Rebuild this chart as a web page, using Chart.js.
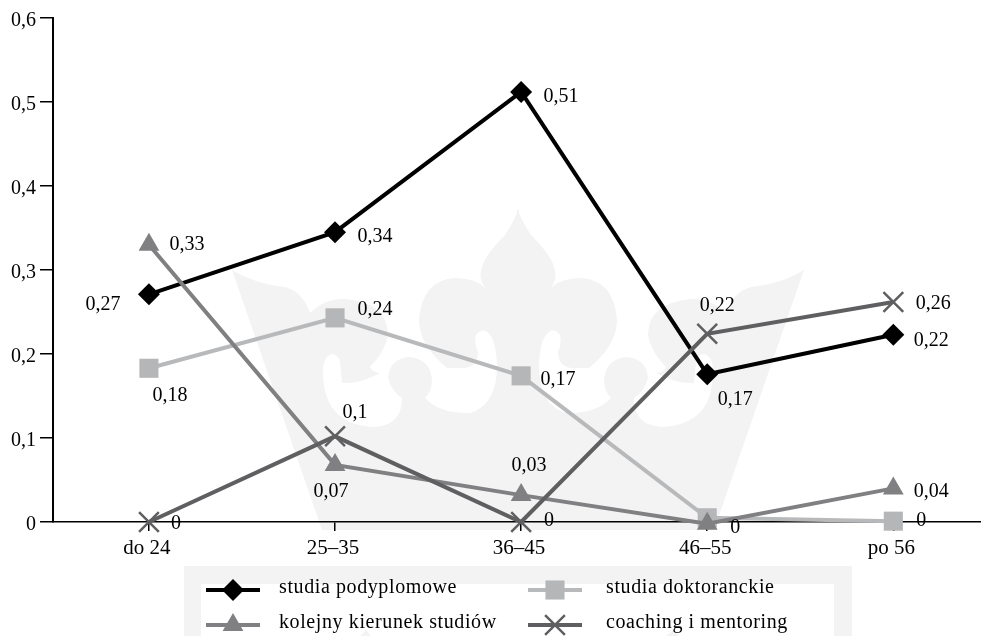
<!DOCTYPE html>
<html lang="pl">
<head>
<meta charset="utf-8">
<title>Wykres</title>
<script src="https://cdn.jsdelivr.net/npm/chart.js@4"></script>
<style>
  html, body { margin: 0; padding: 0; background: #fff; overflow: hidden; }
  #wrap { position: relative; width: 981px; height: 636px; overflow: hidden; }
  #bg, #chart { position: absolute; left: 0; top: 0; }
</style>
</head>
<body>
<div id="wrap">
  <!-- watermark behind the plot -->
  <svg id="bg" width="981" height="636" viewBox="0 0 981 636">
    <defs>
      <path id="half" d="M322 530 L232 270 Q255 284 285 287 Q303 292 310 313 Q325 298 345 299 Q388 303 388 335
        Q385 352 370 367 Q372 372 380 373 Q360 384 342 383 Q341 372 340 362 Q338 354 332 354 Q323 356 323 372
        Q323 425 375 427 Q402 425 402 398 Q392 392 388 378 Q390 358 410 357 Q432 360 432 382 Q431 392 425 398
        Q440 414 470 413 Q497 405 497 365 Q496 342 490 335 Q483 326 476 335 Q474 345 478 352 Q478 366 465 368
        L447 368 Q419 345 419 320 Q422 280 455 278 Q475 278 485 288 Q478 278 482 267 Q485 255 505 235 Q515 220 518 210
        L519 210 L519 530 Z"/>
    </defs>
    <g fill="#f3f3f3">
      <use href="#half"/>
      <use href="#half" transform="translate(1036,0) scale(-1,1)"/>
      <path fill-rule="evenodd" d="M184 566 H852 V636 H834 V584 H201 V636 H184 Z"/>
      <path d="M360 636 L366 630 L371 636 Z M666 636 L674 630 L679 636 Z"/>
    </g>
  </svg>
  <!-- wider than the window so the x axis reaches the edge -->
  <canvas id="chart" width="997" height="636"></canvas>
</div>

<script>
/* ── Data ───────────────────────────────────────────────────── */

const categories = ["do 24", "25–35", "36–45", "46–55", "po 56"];
const yTickLabels = ["0", "0,1", "0,2", "0,3", "0,4", "0,5", "0,6"];

const seriesNames = ["studia podyplomowe", "kolejny kierunek studiów", "studia doktoranckie", "coaching i mentoring"];

const podyplomowe = [0.271, 0.345, 0.512, 0.176, 0.223];
const kierunek    = [0.33, 0.068, 0.032, -0.002, 0.04];
const doktoranckie = [0.183, 0.243, 0.174, 0.005, 0.001];
const coaching    = [0, 0.102, 0, 0.224, 0.262];

const podyplomoweLabels  = ["0,27", "0,34", "0,51", "0,17", "0,22"];
const kierunekLabels     = ["0,33", "0,07", "0,03", "0", "0,04"];
const doktoranckieLabels = ["0,18", "0,24", "0,17", "", "0"];
const coachingLabels     = ["0", "0,1", "0", "0,22", "0,26"];

// where each value label sits relative to its point, in px
const podyplomoweOffsets  = [[-46, 10], [40, 5], [40, 5], [28, 26], [38, 6]];
const kierunekOffsets     = [[38, 0], [-4, 27], [8, -29], [28, 4], [38, 3]];
const doktoranckieOffsets = [[21, 27], [40, -8], [37, 4], [0, 0], [28, 0]];
const coachingOffsets     = [[27, 2], [20, -24], [28, -1], [10, -28], [40, 2]];

/* ── Styling ────────────────────────────────────────────────── */

const FONT = '"Liberation Serif", "Times New Roman", serif';

function makeSeries(name, values, color, pointColor, style, radius, order, labels, offsets) {
  return {
    label: name,
    data: values.map((v, i) => ({ x: i, y: v })),
    borderColor: color,
    borderWidth: 4,
    tension: 0,
    clip: false,
    order: order,
    pointStyle: style,
    pointRadius: radius,
    pointHoverRadius: radius,
    pointBackgroundColor: pointColor,
    pointBorderColor: pointColor,
    pointBorderWidth: style === "crossRot" ? 2.5 : 0,
    valueLabels: labels,
    valueOffsets: offsets,
  };
}

/* ── Plugins ────────────────────────────────────────────────── */

const valueLabelPlugin = {
  id: "valueLabels",
  afterDatasetsDraw(chart) {
    const ctx = chart.ctx;
    ctx.save();
    ctx.font = "20px " + FONT;
    ctx.fillStyle = "#000";
    ctx.textAlign = "center";
    ctx.textBaseline = "middle";
    chart.data.datasets.forEach((ds, d) => {
      chart.getDatasetMeta(d).data.forEach((pt, i) => {
        if (!ds.valueLabels[i]) return;
        const off = ds.valueOffsets[i];
        ctx.fillText(ds.valueLabels[i], pt.x + off[0], pt.y + off[1]);
      });
    });
    ctx.restore();
  },
};

// two column legend under the plot
const legendPlugin = {
  id: "twoColLegend",
  afterDraw(chart) {
    const ctx = chart.ctx;
    const slots = [[206, 590, 279], [206, 625, 279], [528, 590, 606], [528, 625, 606]];
    chart.data.datasets.forEach((ds, d) => {
      const x = slots[d][0], y = slots[d][1];
      ctx.save();
      ctx.strokeStyle = ds.borderColor;
      ctx.lineWidth = 4;
      ctx.beginPath();
      ctx.moveTo(x, y);
      ctx.lineTo(x + 54, y);
      ctx.stroke();
      ctx.fillStyle = ds.pointBackgroundColor;
      ctx.strokeStyle = ds.pointBorderColor;
      ctx.lineWidth = ds.pointBorderWidth;
      Chart.helpers.drawPoint(ctx, { pointStyle: ds.pointStyle, radius: ds.pointRadius, borderWidth: ds.pointBorderWidth }, x + 27, y);
      ctx.font = "20px " + FONT;
      ctx.letterSpacing = "0.6px";
      ctx.fillStyle = "#000";
      ctx.textAlign = "left";
      ctx.textBaseline = "middle";
      ctx.fillText(ds.label, slots[d][2], y - 2);
      ctx.restore();
    });
  },
};

/* ── Chart ──────────────────────────────────────────────────── */

new Chart(document.getElementById("chart"), {
  type: "line",
  data: {
    datasets: [
      makeSeries(seriesNames[0], podyplomowe, "#000000", "#000000", "rectRot", 11, 4, podyplomoweLabels, podyplomoweOffsets),
      makeSeries(seriesNames[1], kierunek, "#808083", "#808083", "triangle", 12, 2, kierunekLabels, kierunekOffsets),
      makeSeries(seriesNames[2], doktoranckie, "#b8b9bb", "#b5b6b8", "rect", 13.5, 3, doktoranckieLabels, doktoranckieOffsets),
      makeSeries(seriesNames[3], coaching, "#5f5f61", "#5f5f61", "crossRot", 14, 1, coachingLabels, coachingOffsets),
    ],
  },
  options: {
    responsive: false,
    animation: false,
    events: [],
    layout: { padding: { top: 18, left: 0, right: 0, bottom: 0 } },
    plugins: { legend: { display: false }, tooltip: { enabled: false } },
    scales: {
      x: {
        type: "linear",
        min: -0.5155,
        max: 4.4685,
        afterBuildTicks(scale) { scale.ticks = categories.map((c, i) => ({ value: i })); },
        afterFit(scale) { scale.height = 114; },
        border: { color: "#000", width: 1.5 },
        grid: { drawOnChartArea: false, color: "#000", lineWidth: 1.5, tickLength: 9 },
        ticks: {
          autoSkip: false,
          maxRotation: 0,
          padding: 5,
          labelOffset: -2,
          color: "#000",
          font: { family: FONT, size: 21 },
          callback: v => categories[v],
        },
      },
      y: {
        min: 0,
        max: 0.6,
        afterFit(scale) { scale.width = 53; },
        border: { color: "#000", width: 2 },
        grid: { drawOnChartArea: false, color: "#000", lineWidth: 1.5, tickLength: 13 },
        ticks: {
          stepSize: 0.1,
          padding: 4,
          labelOffset: 3,
          color: "#000",
          font: { family: FONT, size: 20 },
          callback: (v, i) => yTickLabels[i],
        },
      },
    },
  },
  plugins: [valueLabelPlugin, legendPlugin],
});
</script>
</body>
</html>
